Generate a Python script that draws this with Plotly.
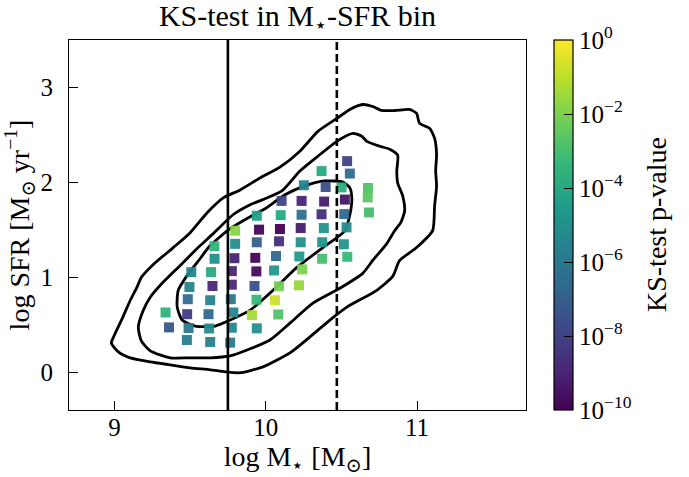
import plotly.graph_objects as go

# ---- binned KS-test results (bin mean positions, log10 of p-value) ----
log_mstar = [
    9.338, 9.361,
    9.508, 9.496, 9.485, 9.481, 9.490, 9.479,
    9.661, 9.662, 9.639, 9.648, 9.633, 9.622, 9.626, 9.633,
    9.798, 9.798, 9.793, 9.776, 9.776, 9.769, 9.786, 9.776, 9.765,
    9.941, 9.956, 9.941, 9.931, 9.938, 9.926, 9.939, 9.909, 9.941,
    10.105, 10.099, 10.094, 10.088, 10.068, 10.055, 10.088, 10.061, 10.083,
    10.252, 10.237, 10.237, 10.231, 10.231, 10.222, 10.241, 10.220,
    10.369, 10.396, 10.386, 10.369, 10.384, 10.373, 10.373,
    10.538, 10.556, 10.501, 10.523, 10.519, 10.534, 10.516, 10.539,
    10.676, 10.674, 10.682,
]
log_sfr = [
    0.628, 0.471,
    1.053, 0.896, 0.768, 0.610, 0.464, 0.338,
    1.326, 1.194, 1.053, 0.907, 0.757, 0.610, 0.459, 0.317,
    1.490, 1.351, 1.200, 1.064, 0.921, 0.768, 0.628, 0.467, 0.310,
    1.647, 1.501, 1.368, 1.204, 1.061, 0.907, 0.762, 0.600, 0.461,
    1.804, 1.654, 1.508, 1.378, 1.223, 1.071, 0.904, 0.757, 0.607,
    1.969, 1.804, 1.658, 1.518, 1.368, 1.218, 1.082, 0.914,
    2.118, 1.951, 1.797, 1.663, 1.518, 1.368, 1.194,
    2.223, 2.092, 1.946, 1.818, 1.665, 1.525, 1.347, 1.215,
    1.940, 1.841, 1.682,
]
log_pvalue = [
    -3.6, -7.3,
    -5.4, -5.5, -6.5, -8.2, -5.9, -5.8,
    -3.5, -5.0, -4.0, -8.9, -5.5, -6.7, -5.2, -5.5,
    -1.8, -5.0, -9.0, -9.0, -8.9, -6.1, -5.5, -5.3, -5.8,
    -4.3, -9.9, -7.0, -9.9, -9.8, -7.5, -3.3, -1.4, -5.0,
    -8.0, -4.0, -10.0, -8.7, -6.7, -4.7, -2.1, -0.8, -2.8,
    -5.5, -9.0, -6.4, -9.2, -5.0, -4.6, -2.0, -1.6,
    -4.0, -7.6, -9.2, -8.7, -4.8, -4.8, -3.0,
    -8.0, -6.4, -3.8, -9.4, -6.7, -5.1, -4.9, -3.3,
    -2.8, -2.6, -3.0,
]

# ---- density contours of the parent sample ----
outer_x = [8.980, 9.000, 9.053, 9.105, 9.152, 9.178, 9.257, 9.389, 9.501, 9.613,
           9.719, 9.831, 9.962, 10.094, 10.226, 10.345, 10.470, 10.556, 10.641,
           10.707, 10.767, 10.852, 10.951, 10.997, 11.017, 11.083, 11.116, 11.129,
           11.123, 11.129, 11.116, 11.103, 10.997, 10.885, 10.839, 10.734, 10.536,
           10.424, 10.292, 10.160, 9.982, 9.831, 9.732, 9.633, 9.501, 9.369,
           9.237, 9.105, 9.026, 8.980]
outer_y = [0.307, 0.390, 0.569, 0.757, 0.904, 0.998, 1.134, 1.312, 1.469, 1.679,
           1.836, 1.920, 2.045, 2.160, 2.328, 2.537, 2.673, 2.768, 2.820,
           2.799, 2.757, 2.757, 2.768, 2.726, 2.621, 2.569, 2.464, 2.297,
           2.119, 1.962, 1.752, 1.490, 1.312, 1.176, 1.008, 0.862, 0.684,
           0.548, 0.370, 0.202, 0.055, -0.007, 0.003, 0.024, 0.045, 0.076,
           0.108, 0.150, 0.213, 0.307]

middle_x = [9.158, 9.191, 9.237, 9.303, 9.435, 9.567, 9.653, 9.784, 9.897, 9.976,
            10.107, 10.226, 10.345, 10.470, 10.576, 10.635, 10.668, 10.754, 10.819,
            10.872, 10.866, 10.872, 10.905, 10.918, 10.892, 10.852, 10.800, 10.707,
            10.641, 10.490, 10.312, 10.160, 10.028, 9.877, 9.765, 9.633, 9.501,
            9.369, 9.237, 9.178, 9.158]
middle_y = [0.474, 0.652, 0.789, 0.915, 1.124, 1.333, 1.459, 1.658, 1.763, 1.815,
            1.910, 2.118, 2.275, 2.432, 2.516, 2.485, 2.432, 2.380, 2.349,
            2.286, 2.119, 1.993, 1.857, 1.700, 1.574, 1.490, 1.354, 1.176,
            1.040, 0.883, 0.726, 0.516, 0.338, 0.233, 0.171, 0.150, 0.150,
            0.150, 0.223, 0.328, 0.474]

inner_x = [9.415, 9.422, 9.481, 9.567, 9.633, 9.765, 9.897, 9.995, 10.127, 10.259,
           10.391, 10.510, 10.556, 10.569, 10.556, 10.523, 10.378, 10.206, 10.048,
           9.897, 9.765, 9.666, 9.534, 9.448, 9.415]
inner_y = [0.684, 0.862, 1.019, 1.197, 1.333, 1.511, 1.637, 1.721, 1.868, 1.962,
           2.014, 2.003, 1.941, 1.826, 1.658, 1.490, 1.312, 1.103, 0.862,
           0.652, 0.548, 0.485, 0.485, 0.548, 0.684]

# ---- stellar-mass limits ----
mass_lo = 9.75
mass_hi = 10.47

cbar_tickvals = [-10, -8, -6, -4, -2, 0]
cbar_ticktext = ["10<sup>\u221210</sup>", "10<sup>\u22128</sup>", "10<sup>\u22126</sup>",
                 "10<sup>\u22124</sup>", "10<sup>\u22122</sup>", "10<sup>0</sup>"]

SERIF = "Liberation Serif, DejaVu Serif, serif"
TICK_SIZE = 25
LABEL_SIZE = 28

# plot-area geometry in pixels
L, R, T, B = 69, 526, 40, 410
W, H = 689, 477

fig = go.Figure()

for cx, cy in [(outer_x, outer_y), (middle_x, middle_y), (inner_x, inner_y)]:
    fig.add_trace(go.Scatter(
        x=cx, y=cy, mode="lines",
        line=dict(color="black", width=2.8, shape="spline", smoothing=0.6),
        hoverinfo="skip", showlegend=False,
    ))

fig.add_trace(go.Scatter(
    x=log_mstar, y=log_sfr, mode="markers",
    marker=dict(
        symbol="square", size=10, color=log_pvalue,
        colorscale="Viridis", cmin=-10, cmax=0, opacity=0.95,
        line=dict(width=0),
        colorbar=dict(
            x=(554 - L) / (R - L), xanchor="left", xpad=0,
            y=0.5, yanchor="middle", ypad=0,
            len=1.0, lenmode="fraction", thickness=19, thicknessmode="pixels",
            outlinewidth=1.2, outlinecolor="black",
            ticks="inside", ticklen=9, tickwidth=1.2, tickcolor="black",
            tickvals=cbar_tickvals, ticktext=cbar_ticktext,
            tickfont=dict(family=SERIF, size=TICK_SIZE, color="black"),
        ),
    ),
    showlegend=False,
))

# colour-bar label
fig.add_annotation(
    text="KS-test p-value", textangle=-90, showarrow=False,
    xref="paper", yref="paper", x=(656 - L) / (R - L), y=0.5,
    xanchor="center", yanchor="middle",
    font=dict(family=SERIF, size=LABEL_SIZE, color="black"),
)

fig.add_vline(x=mass_lo, line=dict(color="black", width=2.6))
fig.add_vline(x=mass_hi, line=dict(color="black", width=2.6, dash="8px,4px"))

axis_common = dict(
    showgrid=False, zeroline=False, showline=True, mirror=True,
    linecolor="black", linewidth=1.2, automargin=False,
    ticks="inside", ticklen=9, tickwidth=1.2, tickcolor="black",
    tickfont=dict(family=SERIF, size=TICK_SIZE, color="black"),
)

fig.update_xaxes(
    range=[8.7, 11.72], tickvals=[9, 10, 11], ticklabelstandoff=-5,
    title=dict(text="log M<sub>\u22c6</sub> [M<sub>\u2299</sub>]",
               font=dict(family=SERIF, size=LABEL_SIZE, color="black"), standoff=4),
    **axis_common,
)
fig.update_yaxes(
    range=[-0.4, 3.5], tickvals=[0, 1, 2, 3], ticklabelstandoff=10,
    title=dict(text="log SFR [M<sub>\u2299</sub> yr<sup>\u22121</sup>]",
               font=dict(family=SERIF, size=LABEL_SIZE, color="black"), standoff=6),
    **axis_common,
)

fig.update_layout(
    width=W, height=H,
    margin=dict(l=L, r=W - R, t=T, b=H - B, autoexpand=False),
    paper_bgcolor="white", plot_bgcolor="white",
    title=dict(text="KS-test in M<sub>\u22c6</sub>-SFR bin",
               x=(L + R) / 2 / W, xanchor="center", y=0.99, yanchor="top",
               font=dict(family=SERIF, size=30, color="black")),
)

fig.write_html("out.html")
